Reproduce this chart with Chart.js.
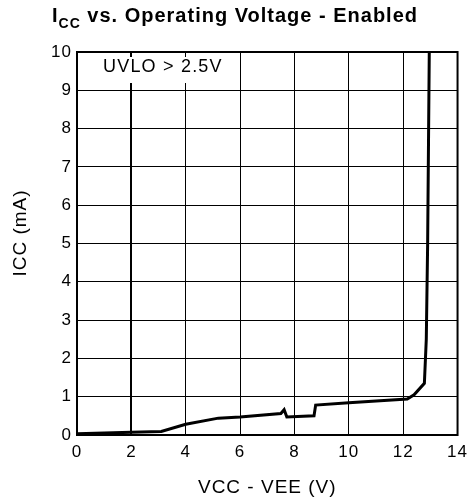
<!DOCTYPE html>
<html>
<head>
<meta charset="utf-8">
<script src="https://cdn.jsdelivr.net/npm/chart.js@4.4.1/dist/chart.umd.min.js"></script>
<style>
  html, body { margin: 0; padding: 0; background: #fff; }
</style>
</head>
<body>
<canvas id="icc-chart" width="474" height="504"></canvas>
<script>
// curve
const vccVee = [0, 2, 3.1, 4, 5.2, 6, 7.5, 7.62, 7.72, 8.72, 8.78, 10, 12.15, 12.4, 12.78, 12.85, 12.9, 12.96];
const iccMa = [0.03, 0.07, 0.09, 0.28, 0.44, 0.47, 0.56, 0.66, 0.47, 0.5, 0.78, 0.84, 0.94, 1.05, 1.35, 2.5, 5, 10];
const xTicks = [0, 2, 4, 6, 8, 10, 12, 14];
const yTicks = [0, 1, 2, 3, 4, 5, 6, 7, 8, 9, 10];
const noteText = "UVLO > 2.5V";
const yTitle = "ICC (mA)";

const FONT = "'Liberation Sans', Arial, Helvetica, sans-serif";
Chart.defaults.color = "#000";
Chart.defaults.font.family = FONT;

const points = vccVee.map((v, i) => ({ x: v, y: iccMa[i] }));

// the original lettering is a bit wider than Liberation Sans
const spacingPlugin = {
  id: "spacing",
  beforeDraw(chart) {
    chart.ctx.letterSpacing = "1px";
  }
};

// title with the CC subscript, and the y title sitting a little above centre
const titlePlugin = {
  id: "subTitle",
  afterDraw(chart) {
    const ctx = chart.ctx;
    ctx.save();
    ctx.letterSpacing = "1px";
    ctx.fillStyle = "#000";
    ctx.textBaseline = "alphabetic";
    const big = "bold 20px " + FONT;
    const small = "bold 14px " + FONT;
    const rest = " vs. Operating Voltage - Enabled";
    ctx.font = big;
    const wI = ctx.measureText("I").width;
    const wRest = ctx.measureText(rest).width;
    ctx.font = small;
    const wCC = ctx.measureText("CC").width;
    let x = 235 - (wI + wCC + wRest) / 2;
    const y = 22;
    ctx.font = big;
    ctx.fillText("I", x, y);
    x += wI;
    ctx.font = small;
    ctx.fillText("CC", x, y + 6);
    x += wCC;
    ctx.font = big;
    ctx.fillText(rest, x, y);

    ctx.translate(21, 233);
    ctx.rotate(-Math.PI / 2);
    ctx.font = "19px " + FONT;
    ctx.textAlign = "center";
    ctx.textBaseline = "middle";
    ctx.fillText(yTitle, 0, 0);
    ctx.restore();
  }
};

// white note box in the top-left corner, then the plot frame
const notePlugin = {
  id: "noteBox",
  beforeDatasetsDraw(chart) {
    const ctx = chart.ctx;
    const a = chart.chartArea;
    ctx.save();
    ctx.fillStyle = "#fff";
    ctx.fillRect(a.left + 20, a.top + 5, 135, 26);
    ctx.fillStyle = "#000";
    ctx.letterSpacing = "1.2px";
    ctx.font = "18px " + FONT;
    ctx.textBaseline = "alphabetic";
    ctx.fillText(noteText, a.left + 26, a.top + 20);
    ctx.restore();
  },
  afterDraw(chart) {
    const ctx = chart.ctx;
    const a = chart.chartArea;
    ctx.save();
    ctx.strokeStyle = "#000";
    ctx.lineWidth = 2;
    ctx.strokeRect(a.left, a.top, a.right - a.left, a.bottom - a.top);
    ctx.restore();
  }
};

new Chart(document.getElementById("icc-chart"), {
  type: "line",
  data: {
    datasets: [
      {
        data: points,
        borderColor: "#000",
        borderWidth: 3,
        pointRadius: 0,
        tension: 0,
        fill: false,
      },
    ],
  },
  options: {
    responsive: false,
    animation: false,
    devicePixelRatio: 1,
    layout: { padding: { top: 52, right: 14, left: 0, bottom: 0 } },
    plugins: {
      legend: { display: false },
      tooltip: { enabled: false },
    },
    scales: {
      x: {
        type: "linear",
        min: 0,
        max: 14,
        afterBuildTicks: (s) => { s.ticks = xTicks.map((v) => ({ value: v })); },
        afterFit: (s) => { s.height = 69; },
        grid: {
          color: "#000",
          lineWidth: (c) => (c.tick && c.tick.value === 2 ? 2 : 1),
          drawTicks: false,
        },
        border: { display: false },
        ticks: { font: { size: 17 }, padding: 7, maxRotation: 0 },
        title: {
          display: true,
          text: "VCC - VEE (V)",
          font: { size: 19 },
          padding: { top: 0, bottom: 5 },
        },
      },
      y: {
        type: "linear",
        min: 0,
        max: 10,
        afterBuildTicks: (s) => { s.ticks = yTicks.map((v) => ({ value: v })); },
        afterFit: (s) => { s.width = 77; },
        grid: { color: "#000", lineWidth: 1, drawTicks: false },
        border: { display: false },
        ticks: { font: { size: 17 }, padding: 5 },
        title: { display: false },
      },
    },
  },
  plugins: [spacingPlugin, titlePlugin, notePlugin],
});
</script>
</body>
</html>
